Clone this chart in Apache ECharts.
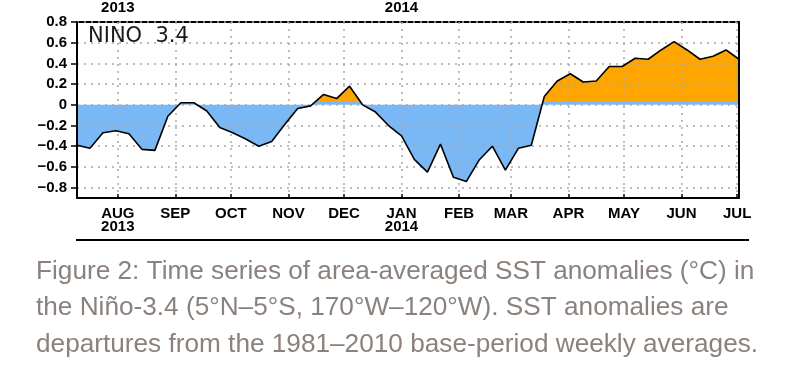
<!DOCTYPE html>
<html><head><meta charset="utf-8">
<script src="https://cdn.jsdelivr.net/npm/echarts@6/dist/echarts.min.js"></script>
<style>html,body{margin:0;padding:0;background:#fff}#c{width:800px;height:371px}</style>
</head><body><div id="c"></div>
<script>
const weeks = ['2013-07-10','2013-07-17','2013-07-24','2013-07-31','2013-08-07','2013-08-14','2013-08-21','2013-08-28',
  '2013-09-04','2013-09-11','2013-09-18','2013-09-25','2013-10-02','2013-10-09','2013-10-16','2013-10-23','2013-10-30',
  '2013-11-06','2013-11-13','2013-11-20','2013-11-27','2013-12-04','2013-12-11','2013-12-18','2013-12-25',
  '2014-01-01','2014-01-08','2014-01-15','2014-01-22','2014-01-29','2014-02-05','2014-02-12','2014-02-19','2014-02-26',
  '2014-03-05','2014-03-12','2014-03-19','2014-03-26','2014-04-02','2014-04-09','2014-04-16','2014-04-23','2014-04-30',
  '2014-05-07','2014-05-14','2014-05-21','2014-05-28','2014-06-04','2014-06-11','2014-06-18','2014-06-25','2014-07-02'];
const anomalies = [-0.39,-0.42,-0.27,-0.25,-0.28,-0.43,-0.44,-0.11,
  0.02,0.02,-0.06,-0.22,-0.27,-0.33,-0.40,-0.355,-0.19,
  -0.035,-0.01,0.10,0.06,0.18,0.0,-0.07,-0.20,
  -0.30,-0.53,-0.65,-0.38,-0.70,-0.74,-0.53,-0.40,-0.63,
  -0.42,-0.39,0.08,0.23,0.30,0.22,0.23,0.37,0.37,
  0.45,0.44,0.53,0.61,0.53,0.44,0.47,0.53,0.44];
const monthTicks = ['2013-08-01','2013-09-01','2013-10-01','2013-11-01','2013-12-01','2014-01-01',
  '2014-02-01','2014-03-01','2014-04-01','2014-05-01','2014-06-01','2014-07-01'];
const monthLabels = ['AUG','SEP','OCT','NOV','DEC','JAN','FEB','MAR','APR','MAY','JUN','JUL'];
const yearTicks = ['2013-08-01','2014-01-01'];
const yearLabels = ['2013','2014'];
const yTicks = [-0.8,-0.6,-0.4,-0.2,0,0.2,0.4,0.6,0.8];
const yMin = -0.9, yMax = 0.8;
const titleText = 'NINO  3.4';
const captionLines = [
  'Figure 2: Time series of area-averaged SST anomalies (\u00B0C) in',
  'the Ni\u00F1o-3.4 (5\u00B0N\u20135\u00B0S, 170\u00B0W\u2013120\u00B0W). SST anomalies are',
  'departures from the 1981\u20132010 base-period weekly averages.'
];

const DAY = 86400000;
function toDay(s){const p=s.split('-');return Math.round(Date.UTC(+p[0],+p[1]-1,+p[2])/DAY);}
const seriesData = weeks.map((d,i)=>[toDay(d), anomalies[i]]);
const monthDays = monthTicks.map(toDay);
const yearDays = yearTicks.map(toDay);
function findIdx(arr,v){for(let i=0;i<arr.length;i++){if(Math.abs(arr[i]-v)<0.5)return i;}return -1;}

const BLUE='#79b8f5', ORANGE='#ffa500', GRID='#a8a8a8';
const xMin = toDay(weeks[0]), xMax = toDay(weeks[weeks.length-1]);
const narrow = '"Liberation Sans Narrow","Liberation Sans",Arial,sans-serif';
const gridTop = 16, gridBottom = 173, H = 371;
const plotTop = gridTop, plotBottom = H - gridBottom;
const zeroFrac = (yMax - 0) / (yMax - yMin);
const areaFill = new echarts.graphic.LinearGradient(0, plotTop, 0, plotBottom, [
  {offset:0,color:ORANGE},{offset:zeroFrac,color:ORANGE},
  {offset:zeroFrac,color:BLUE},{offset:1,color:BLUE}], true);

const chart = echarts.init(document.getElementById('c'), null, {renderer:'canvas'});
chart.setOption({
  animation:false,
  backgroundColor:'#fff',
  grid:{left:77,right:61,top:gridTop,bottom:gridBottom,containLabel:false},
  xAxis:[{
    type:'value',min:xMin,max:xMax,position:'bottom',z:4,
    axisLine:{show:true,onZero:false,lineStyle:{color:'#000',width:2}},
    axisTick:{show:true,inside:true,length:4,customValues:monthDays,lineStyle:{color:'#000',width:1.5}},
    axisLabel:{customValues:monthDays,margin:9,color:'#000',fontFamily:narrow,fontWeight:'bold',fontSize:15,lineHeight:13,
      formatter:function(v){const i=findIdx(monthDays,v);if(i<0)return '';const y=findIdx(yearDays,v);
        return monthLabels[i]+(y>=0?'\n'+yearLabels[y]:'');}},
    splitLine:{show:true,lineStyle:{color:GRID,type:[2,5],width:1.5}}
  },{
    type:'value',min:xMin,max:xMax,position:'top',z:3,
    axisLine:{show:true,onZero:false,lineStyle:{color:'#000',width:2}},
    axisTick:{show:false},
    axisLabel:{customValues:yearDays,margin:7,color:'#000',fontFamily:narrow,fontWeight:'bold',fontSize:15,
      formatter:function(v){const y=findIdx(yearDays,v);return y>=0?yearLabels[y]:'';}},
    splitLine:{show:false}
  }],
  yAxis:[{
    type:'value',min:yMin,max:yMax,position:'left',z:4,
    axisLine:{show:true,onZero:false,lineStyle:{color:'#000',width:2}},
    axisTick:{show:true,length:6,customValues:yTicks,lineStyle:{color:'#000',width:1.5}},
    axisLabel:{customValues:yTicks,margin:10,color:'#000',fontFamily:'"Liberation Sans",Arial,sans-serif',fontWeight:'bold',fontSize:15,
      formatter:function(v){if(Math.abs(v)<1e-9)return '0';return (v<0?'\u2212':'')+Math.abs(v).toFixed(1);}},
    splitLine:{show:true,lineStyle:{color:GRID,type:[2,5],width:1.5}}
  },{
    type:'value',min:yMin,max:yMax,position:'right',z:3,
    axisLine:{show:true,onZero:false,lineStyle:{color:'#000',width:2}},
    axisTick:{show:false},axisLabel:{show:false},splitLine:{show:false}
  }],
  series:[{
    type:'line',data:seriesData,xAxisIndex:0,yAxisIndex:0,symbol:'none',showSymbol:false,silent:true,z:2,
    lineStyle:{width:0,color:'#000'},areaStyle:{opacity:1,color:areaFill,origin:0}
  },{
    type:'line',data:seriesData,xAxisIndex:0,yAxisIndex:0,symbol:'none',showSymbol:false,silent:true,z:5,
    lineStyle:{color:'#000',width:1.6}
  }],
  graphic:[
    {type:'text',left:88,top:26,z:10,style:{text:titleText,fill:'#1a1a1a',font:'21px "DejaVu Sans",sans-serif'}},
    {type:'line',z:10,shape:{x1:76,y1:240,x2:749,y2:240},style:{stroke:'#000',lineWidth:2}},
    {type:'text',x:36,y:272,z:10,style:{text:captionLines[0],fill:'#8b827d',font:'26.2px "Liberation Sans",Arial,sans-serif',textVerticalAlign:'middle'}},
    {type:'text',x:36,y:308,z:10,style:{text:captionLines[1],fill:'#8b827d',font:'26.2px "Liberation Sans",Arial,sans-serif',textVerticalAlign:'middle'}},
    {type:'text',x:36,y:345,z:10,style:{text:captionLines[2],fill:'#8b827d',font:'26.2px "Liberation Sans",Arial,sans-serif',textVerticalAlign:'middle'}}
  ]
});
</script></body></html>
